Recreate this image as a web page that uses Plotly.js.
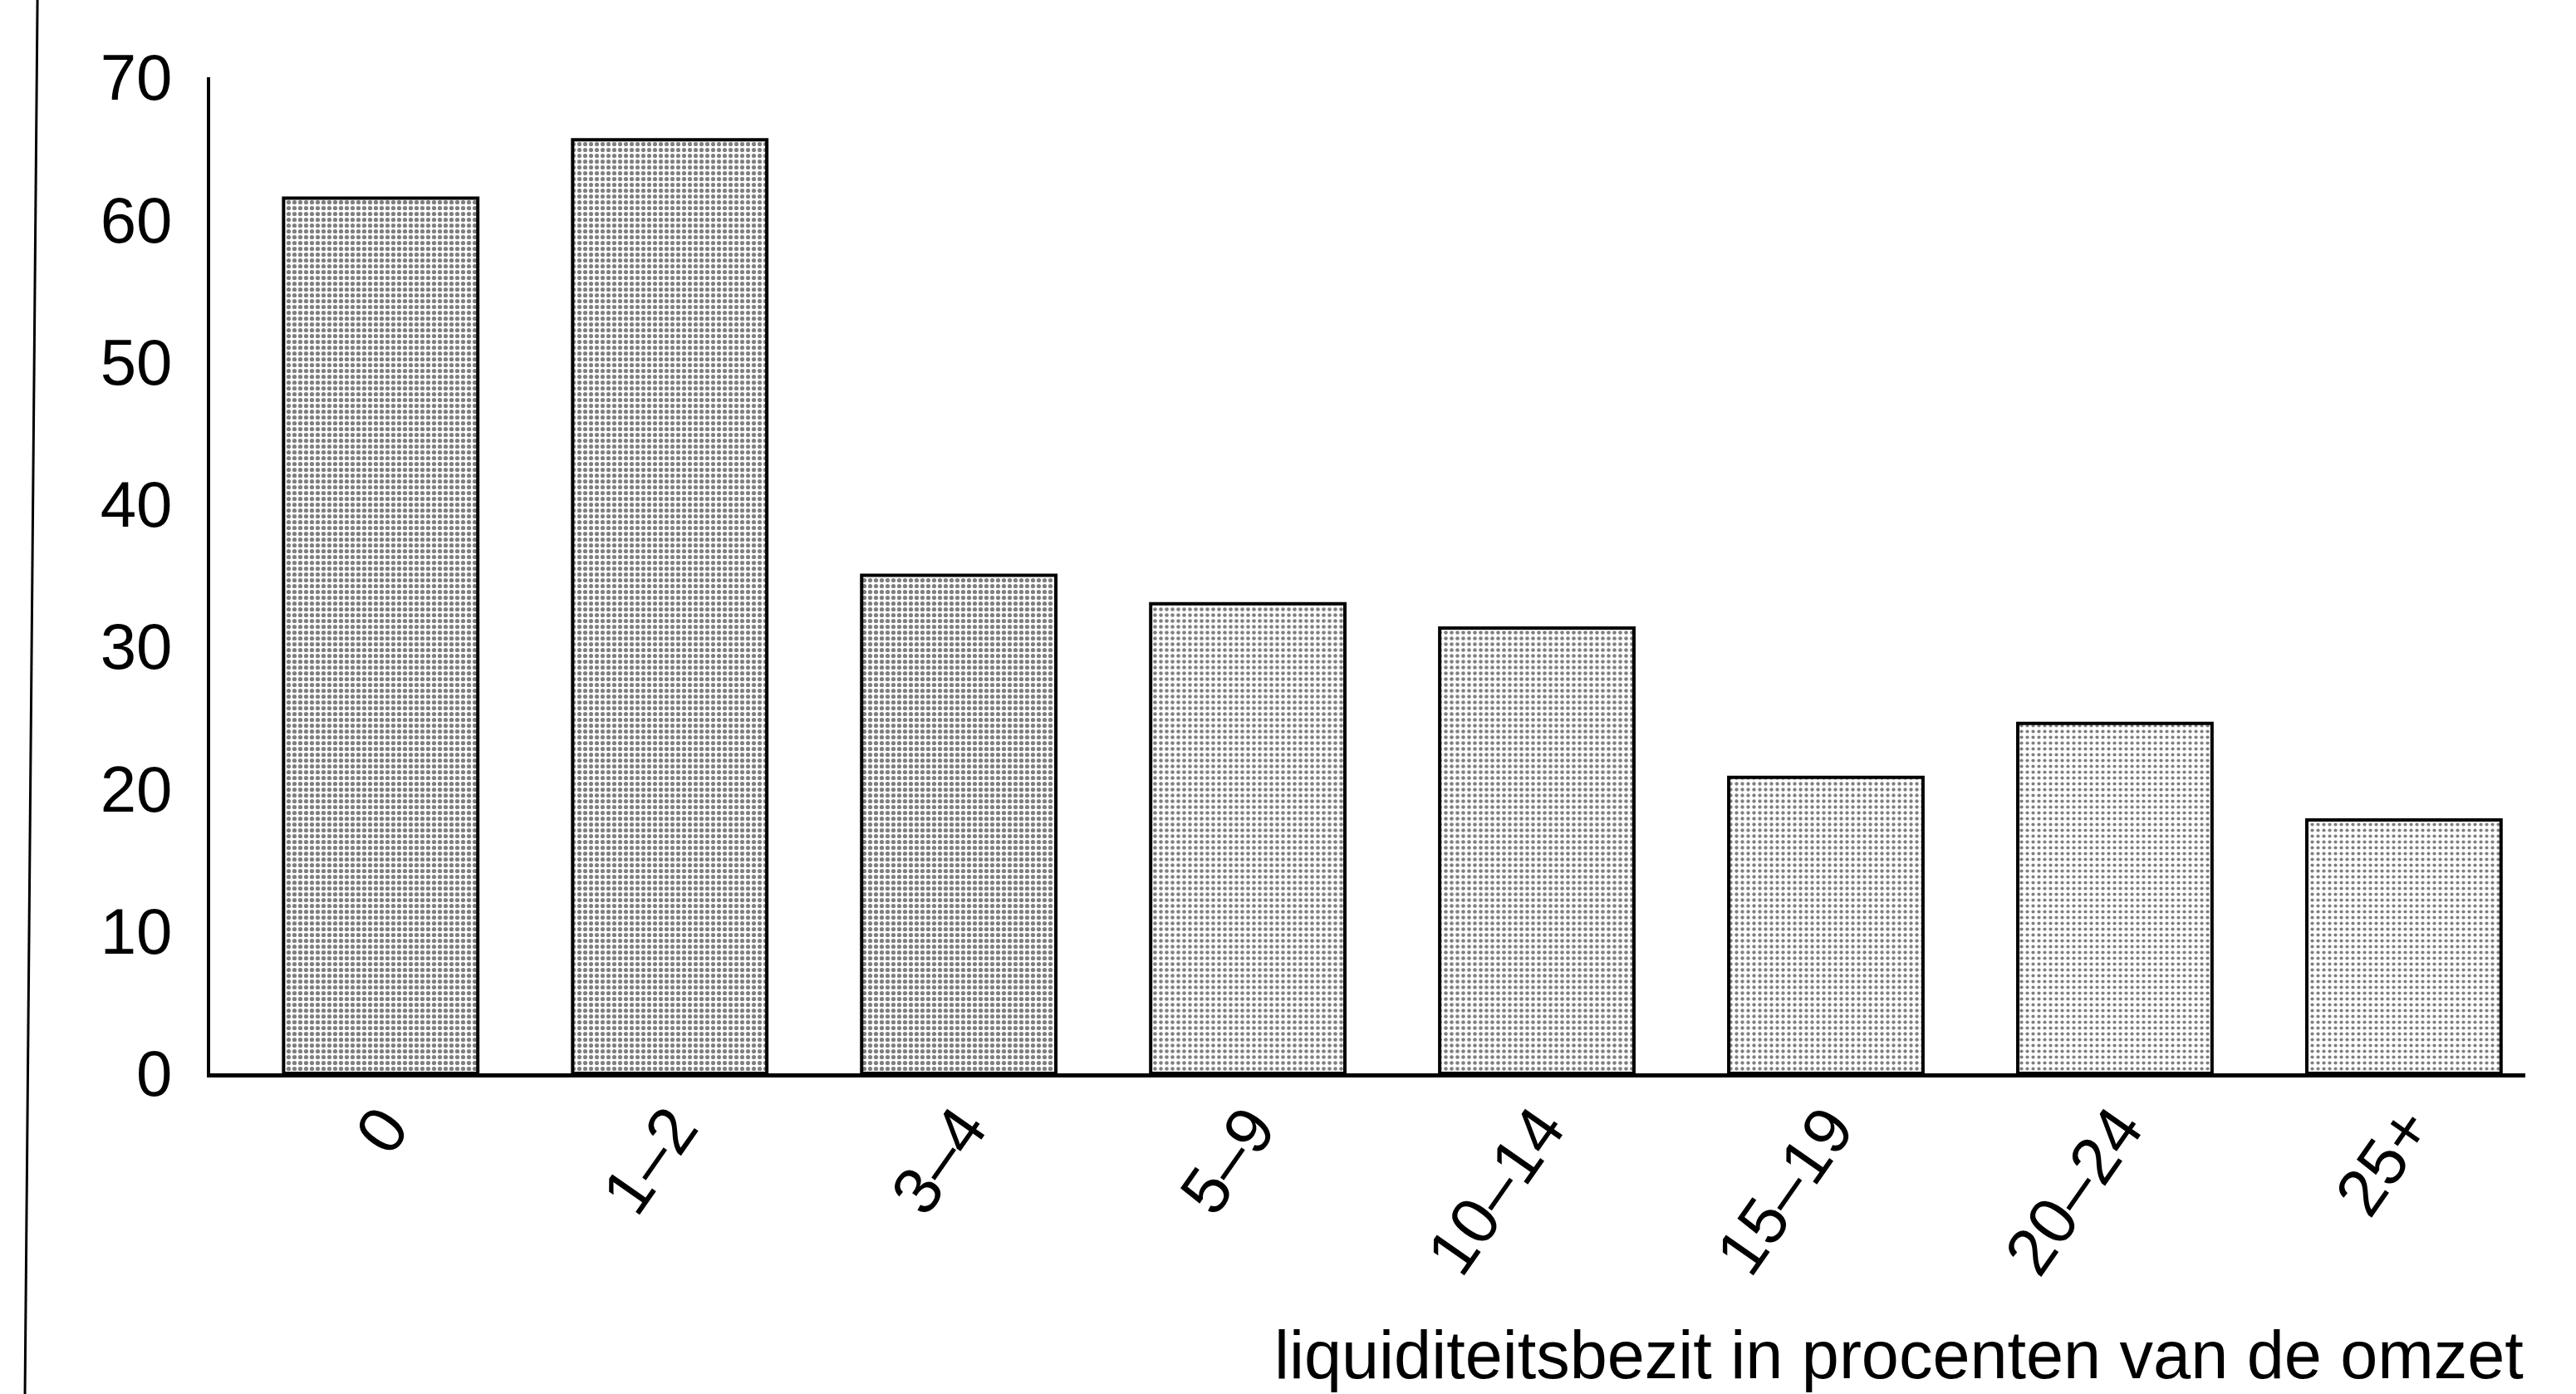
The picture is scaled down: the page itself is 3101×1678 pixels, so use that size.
<!DOCTYPE html>
<html>
<head>
<meta charset="utf-8">
<script src="https://cdn.plot.ly/plotly-3.0.1.min.js"></script>
<style>
  html, body { margin: 0; padding: 0; background: #ffffff; }
  #chart { width: 3101px; height: 1678px; }
</style>
</head>
<body>
<div id="chart"></div>
<script>
// ---- data ----
const categories = ['0', '1–2', '3–4', '5–9', '10–14', '15–19', '20–24', '25+'];
const values = [61.5, 65.6, 35.0, 33.0, 31.3, 20.8, 24.6, 17.8];
const yTickValues = [0, 10, 20, 30, 40, 50, 60, 70];
const xAxisTitle = 'liquiditeitsbezit in procenten van de omzet';

// ---- styling (stippled fill density per bar) ----
const stippleDensity = [0.44, 0.42, 0.44, 0.34, 0.34, 0.30, 0.28, 0.28];

const FONT = 'Liberation Sans, Arial, Helvetica, sans-serif';

const trace = {
  type: 'bar',
  x: categories,
  y: values,
  width: 0.672,
  marker: {
    color: '#ffffff',
    line: { color: '#000000', width: 4 },
    pattern: {
      shape: '.',
      fgcolor: '#000000',
      bgcolor: '#ffffff',
      size: 7,
      solidity: stippleDensity,
      fillmode: 'overlay'
    }
  },
  hoverinfo: 'x+y'
};

const layout = {
  width: 3101,
  height: 1678,
  paper_bgcolor: '#ffffff',
  plot_bgcolor: '#ffffff',
  margin: { l: 253, r: 61, t: 93, b: 386, pad: 0 },
  showlegend: false,
  font: { family: FONT, color: '#000000', size: 78 },
  xaxis: {
    type: 'category',
    range: [-0.59, 7.42],
    showline: true,
    linecolor: '#000000',
    linewidth: 5,
    ticks: '',
    showgrid: false,
    zeroline: false,
    tickangle: -55,
    tickfont: { family: FONT, size: 80, color: '#000000' },
    ticklabelstandoff: -18,
    ticklabelshift: 4,
    automargin: false
  },
  yaxis: {
    range: [0, 70],
    tickmode: 'array',
    tickvals: yTickValues,
    ticktext: yTickValues.map(String),
    showline: true,
    linecolor: '#000000',
    linewidth: 4,
    ticks: '',
    showgrid: false,
    zeroline: false,
    tickfont: { family: FONT, size: 78, color: '#000000' },
    ticklabelstandoff: 26,
    automargin: false
  },
  annotations: [{
    text: xAxisTitle,
    xref: 'paper', yref: 'paper',
    x: 1.0, y: -0.283,
    xanchor: 'right', yanchor: 'middle',
    showarrow: false,
    font: { family: FONT, size: 81, color: '#000000' }
  }],
  shapes: [{
    type: 'line',
    xref: 'paper', yref: 'paper',
    x0: -0.0746, y0: 1.0776,
    x1: -0.0800, y1: -0.322,
    line: { color: '#000000', width: 3 }
  }]
};

Plotly.newPlot('chart', [trace], layout, { displayModeBar: false, staticPlot: true });
</script>
</body>
</html>
